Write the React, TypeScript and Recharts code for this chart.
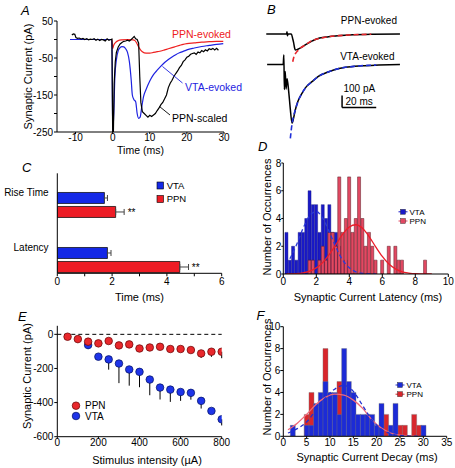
import React from 'react';
import {
  LineChart, ComposedChart, Line, Bar, Scatter, XAxis, YAxis, ErrorBar, ReferenceLine, LabelList,
} from 'recharts';

const FONT = "'Liberation Sans', Arial, Helvetica, sans-serif";
const CW = 455;
const CH = 468;
const YW = 40;
const XH = 30;
const N = null;

const BLUE = '#1e22e0';
const RED = '#ee2020';

// ---------------- Panel A: traces ----------------
const aTicksX = [-10, 0, 10, 20, 30];
const aTicksY = [50, 0, -50, -100, -150, -200, -250];
const aLabelsY = [50, -50, -150, -250];
const aBlackT = [-11, -10.6, -10.2, -9.9, -9.5, -9, -8.5, -8, -7.5, -7, -6.5, -6, -5.5, -5, -4.5, -4, -3.5, -3, -2.5, -2, -1.5, -1, -0.5, -0.2, 0, 0.2, 0.4, 0.7, 1, 1.5, 2, 2.5, 3, 3.5, 4, 4.5, 5, 5.5, 5.8, 6.2, 6.6, 7, 7.3, 7.6, 8, 8.5, 9, 9.5, 10, 10.5, 11, 11.5, 12, 12.5, 13, 13.5, 14, 14.5, 15, 15.5, 16, 16.5, 17, 17.5, 18, 18.5, 19, 19.5, 20, 20.5, 21, 21.5, 22, 22.5, 23, 23.5, 24, 24.5, 25, 25.5, 26, 26.5, 27, 27.5, 28, 28.5];
const aBlackV = [12, 15, 14, 5, 3, 4, 1, 3, 0, 2, -1, 1, 0, 2, -2, 1, -3, 0, -1, -4, 2, -2, 0, 1, -250, -250, -120, -60, -35, -20, -12, -8, -5, -4, -2, -4, 0, 5, 8, 2, 0, -10, -100, -170, -195, -200, -205, -210, -205, -208, -204, -200, -192, -185, -176, -170, -160, -150, -130, -118, -110, -100, -92, -85, -76, -70, -60, -55, -48, -45, -40, -38, -36, -40, -34, -36, -30, -33, -28, -31, -25, -27, -24, -28, -24, -29];
const aBlueT = [-11.5, -8, -4, -0.2, 0, 0.3, 0.6, 1, 1.5, 2, 2.5, 3, 3.5, 4, 4.5, 5, 5.3, 5.7, 6.2, 6.6, 7, 7.4, 7.8, 8.3, 9, 10, 11, 12, 13, 14, 15, 16, 17, 18, 19, 20, 22, 24, 26, 28, 29.8];
const aBlueV = [0, 0, 0, 0, -250, -200, -100, -55, -30, -22, -19, -20, -25, -35, -60, -110, -150, -162, -168, -200, -213, -210, -185, -155, -135, -112, -95, -83, -72, -62, -54, -47, -41, -36, -32, -28, -23, -19, -16, -13, -11];
const aRedT = [-11.5, -0.2, 0, 0.3, 0.8, 1.5, 2.5, 4, 5.5, 6, 6.5, 7, 7.5, 8, 9, 10, 11, 12, 13, 14, 15, 16, 17, 18, 19, 20, 22, 24, 26, 28, 29.8];
const aRedV = [0, 0, -25, -15, -8, -3, -1, 0, -1, -3, -10, -20, -28, -33, -37, -37, -35, -33, -31, -28, -25, -22, -19, -16, -13, -11, -9, -7, -6, -5, -5];

// ---------------- Panel B: example traces with fits ----------------
const PPN_OFFSET = 253;
const bPpnT = [-12.5, -4, -0.6, -0.35, -0.1, 0.2, 2.2, 3.0, 3.5, 4.0, 4.5, 5.5, 7, 10.4, 16.2, 24, 35.8, 49.4, 65.8];
const bPpnV = [0, 0, 0, 20, -15, 0, 0, -40, -70, -110, -133, -130, -120, -90, -45, -22, -8, -2, 0];
const bPpnFitT = [3.0, 3.5, 4.5, 6, 8, 10.4, 13, 16.2, 20, 24, 30, 36, 42, 49];
const bPpnFitV = [-231, -200, -165, -138, -112, -90, -65, -45, -32, -22, -13, -8, -4, -2];
const bVtaT = [-12, -2.6, -2.2, -1.9, -1.4, -0.9, -0.3, 0.6, 1.5, 2.6, 3.3, 4.5, 6, 8.4, 11, 14.3, 18, 24.1, 30, 33.8, 43.6, 53.4, 65.8];
const bVtaV = [0, 0, 78, -210, -60, -205, -120, -220, -360, -490, -460, -380, -310, -241, -185, -144, -100, -61, -35, -24, -11, -5, 0];
const bVtaFitT = [1.6, 2.6, 3.5, 4.5, 6, 8.4, 11, 14.3, 18, 24.1, 30, 34, 40, 47, 52];
const bVtaFitV = [-616, -495, -430, -380, -312, -241, -185, -144, -100, -61, -35, -24, -15, -8, -5];
const SCALE_T = 31.9;
const SCALE_V = -360;
const SCALE_PA = 100;
const SCALE_MS = 20;

// ---------------- Panel C: bar summary ----------------
const cCategories = ['Rise Time', 'Latency'];
const cPos = [1, 2];
const cVta = [1.72, 1.83];
const cVtaErr = [0.11, 0.13];
const cPpn = [2.13, 4.47];
const cPpnErr = [0.31, 0.32];
const cSig = ['**', '**'];
const cTicksX = [0, 1, 2, 3, 4, 5, 6];

// ---------------- Panel D: latency histogram ----------------
const dCenters = [0.2, 0.4, 0.6, 0.8, 1.0, 1.2, 1.4, 1.6, 1.8, 2.0, 2.2, 2.4, 2.6, 2.8, 3.0, 3.2, 3.4, 3.6, 3.8, 4.0, 4.2, 4.4, 4.6, 4.8, 5.0, 5.2, 5.4, 5.6, 5.8, 6.0, 6.2, 6.4, 6.6, 6.8, 7.0, 7.2, 7.4, 7.6, 7.8, 8.0, 8.2, 8.4, 8.6, 8.8, 9.0];
const dVta = [3, 1, 2, 1, 3, 3, 4, 6, 5, 5, 3, 5, 4, 5, 3, 3, 2, 1, 1, 0, 0, 0, 0, 0, 0, 0, 0, 0, 0, 0, 0, 0, 0, 0, 0, 0, 0, 0, 0, 0, 0, 0, 0, 0, 0];
const dPpn = [0, 0, 0, 0, 0, 0, 0, 1, 1, 0, 1, 2, 1, 3, 3, 2, 7, 3, 4, 7, 3, 4, 7, 4, 2, 3, 2, 1, 0, 1, 0, 2, 0, 2, 1, 1, 0, 0, 0, 0, 0, 0, 1, 0, 0];
const dVtaFit = [N, 1.1, N, 2.1, N, 3.3, N, 4.2, N, 4.5, N, 4.0, N, 3.0, N, 1.9, N, 1.0, N, 0.45, N, 0.16, N, 0.05, N, 0.01, N, 0, N, N, N, N, N, N, N, N, N, N, N, N, N, N, N, N, N];
const dPpnFit = [0.01, N, N, 0.03, N, 0.08, N, 0.2, N, 0.44, N, 0.84, N, 1.43, N, 2.15, N, 2.87, N, 3.39, N, 3.55, N, 3.29, N, 2.7, N, 1.96, N, 1.27, N, 0.72, N, 0.37, N, 0.16, N, 0.07, N, 0.02, N, 0.01, N, 0, 0];
const dTicksX = [0, 2, 4, 6, 8, 10];
const dTicksY = [0, 2, 4, 6, 8];

// ---------------- Panel E: input-output ----------------
const ePpnX = [50, 100, 150, 200, 250, 300, 350, 400, 450, 500, 550, 600, 650, 700, 750, 800];
const ePpnY = [-14, -28, -43, -53, -39, -65, -59, -83, -77, -73, -86, -86, -92, -112, -102, -102];
const ePpnErr = [5, 8, 10, 10, 8, 12, 10, 20, 12, 12, 15, 12, 15, 26, 30, 38];
const eVtaX = [150, 200, 250, 300, 350, 400, 450, 500, 550, 600, 650, 700, 750, 800];
const eVtaY = [-63, -131, -147, -171, -206, -220, -265, -312, -324, -338, -343, -390, -449, -498];
const eVtaErr = [20, 10, 60, 115, 95, 90, 92, 70, 72, 52, 40, 45, 15, 36];
const eTicksX = [0, 200, 400, 600, 800];
const eTicksY = [-600, -400, -200, 0];

// ---------------- Panel F: decay histogram ----------------
const fCenters = [1, 2, 3, 4, 5, 6, 7, 8, 9, 10, 11, 12, 13, 14, 15, 16, 17, 18, 19, 20, 21, 22, 23, 24, 25, 26, 27, 28, 29, 30];
const fVta = [0, 1, 0, 0, 1, 1, 3, 4, 5, 4, 4, 2, 8, 5, 4, 2, 2, 2, 2, 1, 3, 0, 1, 3, 0, 0, 0, 0, 0, 1];
const fPpn = [0, 0, 0, 0, 2, 4, 0, 0, 8, 0, 0, 5, 0, 0, 0, 0, 0, 0, 0, 0, 0, 2, 0, 0, 1, 1, 0, 2, 1, 0];
const fVtaFit = [0.3, N, 0.7, N, 1.3, N, 2.4, N, 3.5, N, 4.3, N, 4.65, N, 4.1, N, 2.8, N, 1.5, N, 0.65, N, 0.25, N, 0.08, N, 0.02, N, 0, N];
const fPpnFit = [0.6, N, 1.2, N, 2.0, N, 2.9, N, 3.55, N, 3.85, N, 3.75, N, 3.3, N, 2.55, N, 1.5, N, 0.75, N, 0.3, N, 0.1, N, 0.03, N, 0, N];
const fTicksX = [0, 5, 10, 15, 20, 25, 30, 35];
const fTicksY = [0, 2, 4, 6, 8, 10];

// ---------------- helpers ----------------
const pts = (ts: number[], vs: number[], off = 0) => ts.map((t, i) => ({ t, v: vs[i] + off }));
const margin = (l: number, t: number, r: number, b: number, yw = YW, xh = XH) => ({
  left: l - yw, top: t, right: CW - r, bottom: CH - b - xh,
});
const layer: React.CSSProperties = { position: 'absolute', left: 0, top: 0 };
const axisLine = { stroke: '#000', strokeWidth: 1 };
const tick10 = { fill: '#000', fontSize: 10, fontFamily: FONT };

const aBlack = pts(aBlackT, aBlackV);
const aBlue = pts(aBlueT, aBlueV);
const aRed = pts(aRedT, aRedV);
const bPpn = pts(bPpnT, bPpnV, PPN_OFFSET);
const bPpnFit = pts(bPpnFitT, bPpnFitV, PPN_OFFSET);
const bVta = pts(bVtaT, bVtaV);
const bVtaFit = pts(bVtaFitT, bVtaFitV);

const cRows = cPos.map((pos, i) => ({
  pos, vta: cVta[i], vtaErr: [0, cVtaErr[i]], ppn: cPpn[i], ppnErr: [0, cPpnErr[i]], sig: cSig[i],
}));
const dRows = dCenters.map((x, i) => ({ x, vta: dVta[i], ppn: dPpn[i], vtaFit: dVtaFit[i], ppnFit: dPpnFit[i] }));
const fRows = fCenters.map((x, i) => ({ x, vta: fVta[i], ppn: fPpn[i], vtaFit: fVtaFit[i], ppnFit: fPpnFit[i] }));
const ePpnRows = ePpnX.map((x, i) => ({ x, y: ePpnY[i], err: [ePpnErr[i], 0] }));
const eVtaRows = eVtaX.map((x, i) => ({ x, y: eVtaY[i], err: [eVtaErr[i], 0] }));

const CTick = (props: any) => {
  const { x, y, payload } = props;
  const i = cPos.indexOf(payload.value);
  return (
    <text x={x} y={y - 9} textAnchor="end" fontSize={10} fill="#000" fontFamily={FONT}>
      {cCategories[i]}
    </text>
  );
};

const circleShape = (fill: string, stroke: string) => (p: any) => (
  <circle cx={p.cx} cy={p.cy} r={3.8} fill={fill} stroke={stroke} strokeWidth={0.7} />
);

// ---------------- overlay text ----------------
const T = ({ x, y, s = 10, anchor = 'start', fill = '#000', italic = false, children }: any) => (
  <text x={x} y={y + s * 0.36} fontSize={s} textAnchor={anchor} fill={fill} fontFamily={FONT}
    fontStyle={italic ? 'italic' : 'normal'}>{children}</text>
);
const VT = ({ x, y, s = 11, children }: any) => (
  <text transform={`translate(${x},${y}) rotate(-90)`} y={s * 0.36} fontSize={s} textAnchor="middle"
    fill="#000" fontFamily={FONT}>{children}</text>
);
const HistKey = ({ x, y, fill, label }: any) => (
  <g>
    <line x1={x - 4.5} x2={x + 4.5} y1={y} y2={y} stroke={fill} strokeWidth={1} />
    <rect x={x - 2.5} y={y - 2.5} width={5} height={5} fill={fill} stroke="#222" strokeWidth={0.4} />
    <T x={x + 6.5} y={y} s={8}>{label}</T>
  </g>
);

const Overlay = () => (
  <svg width={CW} height={CH} style={{ position: 'absolute', left: 0, top: 0, pointerEvents: 'none' }}>
    {/* panel letters */}
    <T x={21} y={10} s={13} italic>A</T>
    <T x={267} y={9} s={13} italic>B</T>
    <T x={22} y={167} s={13} italic>C</T>
    <T x={258} y={146.5} s={13} italic>D</T>
    <T x={18} y={316.5} s={13} italic>E</T>
    <T x={256.5} y={315} s={13} italic>F</T>

    {/* panel A */}
    <VT x={28.5} y={76.5}>Synaptic Current (pA)</VT>
    <T x={140.5} y={150.5} s={10.5} anchor="middle">Time (ms)</T>
    <T x={172} y={34} fill="#ee2020" s={10.5}>PPN-evoked</T>
    <T x={185} y={87.3} fill="#1e22e0" s={10.5}>VTA-evoked</T>
    <T x={172} y={118.3} s={10.5}>PPN-scaled</T>
    <line x1={162.5} y1={66.5} x2={182.5} y2={83} stroke="#1e22e0" strokeWidth={0.9} />
    <line x1={159.5} y1={106.5} x2={170} y2={115} stroke="#000" strokeWidth={0.9} />

    {/* panel B */}
    <T x={397} y={20.3} anchor="end">PPN-evoked</T>
    <T x={394.5} y={56.5} anchor="end">VTA-evoked</T>
    <T x={343.5} y={88}>100 pA</T>
    <T x={345.5} y={101.5}>20 ms</T>

    {/* panel C */}
    <T x={139.5} y={297} s={11} anchor="middle">Time (ms)</T>
    <rect x={157} y={182} width={6.5} height={7} fill="#1428e6" stroke="#000" strokeWidth={0.6} />
    <T x={166.7} y={185.5} s={9.5}>VTA</T>
    <rect x={157} y={195.5} width={6.5} height={7} fill="#ee1c25" stroke="#000" strokeWidth={0.6} />
    <T x={166.7} y={199} s={9.5}>PPN</T>

    {/* panel D */}
    <VT x={266.7} y={217}>Number of Occurrences</VT>
    <T x={368} y={296.7} s={11} anchor="middle">Synaptic Current Latency (ms)</T>
    <HistKey x={403} y={211.8} fill="#1a1ac8" label="VTA" />
    <HistKey x={403} y={221} fill="#e24862" label="PPN" />

    {/* panel E */}
    <VT x={27} y={376}>Synaptic Current (pA)</VT>
    <T x={147} y={460} s={11} anchor="middle">Stimulus intensity (µA)</T>
    <circle cx={76} cy={405.7} r={3.8} fill="#e8282c" stroke="#600" strokeWidth={0.7} />
    <T x={85} y={405.7}>PPN</T>
    <circle cx={76} cy={416} r={3.8} fill="#1e34e8" stroke="#001060" strokeWidth={0.7} />
    <T x={85} y={416}>VTA</T>

    {/* panel F */}
    <VT x={266.7} y={377}>Number of Occurrences</VT>
    <T x={367} y={456.7} s={11} anchor="middle">Synaptic Current Decay (ms)</T>
    <HistKey x={400} y={385} fill="#1c2bd6" label="VTA" />
    <HistKey x={400} y={394.2} fill="#d8262c" label="PPN" />
  </svg>
);

export default function App() {
  return (
    <div style={{ position: 'absolute', left: 0, top: 0, width: CW, height: CH, background: '#fff', fontFamily: FONT, overflow: 'hidden' }}>
      {/* Panel A */}
      <div style={layer}>
        <LineChart width={CW} height={CH} margin={margin(57, 21, 224, 132)}>
          <XAxis type="number" dataKey="t" domain={[-15, 30]} ticks={aTicksX} interval={0} allowDataOverflow
            height={XH} tickSize={2} tickMargin={0} axisLine={axisLine} tickLine={axisLine} tick={tick10} />
          <YAxis type="number" domain={[-250, 50]} ticks={aTicksY} interval={0} allowDataOverflow
            width={YW} tickSize={3} tickMargin={1} axisLine={axisLine} tickLine={axisLine} tick={tick10}
            tickFormatter={(v: number) => (aLabelsY.includes(v) ? String(v) : '')} />
          <Line data={aRed} dataKey="v" type="monotone" stroke={RED} strokeWidth={1.2} dot={false} activeDot={false} isAnimationActive={false} />
          <Line data={aBlue} dataKey="v" type="monotone" stroke={BLUE} strokeWidth={1.2} dot={false} activeDot={false} isAnimationActive={false} />
          <Line data={aBlack} dataKey="v" type="linear" stroke="#000" strokeWidth={1.2} dot={false} activeDot={false} isAnimationActive={false} />
        </LineChart>
      </div>

      {/* Panel B */}
      <div style={layer}>
        <LineChart width={CW} height={CH} margin={{ left: 262, right: CW - 402, top: 20, bottom: CH - 146 }}>
          <XAxis type="number" dataKey="t" domain={[-15, 67]} hide allowDataOverflow />
          <YAxis type="number" domain={[-680, 370]} hide allowDataOverflow />
          <Line data={bPpn} dataKey="v" type="monotone" stroke="#000" strokeWidth={1.5} dot={false} activeDot={false} isAnimationActive={false} />
          <Line data={bVta} dataKey="v" type="monotone" stroke="#000" strokeWidth={1.5} dot={false} activeDot={false} isAnimationActive={false} />
          <Line data={bPpnFit} dataKey="v" type="monotone" stroke="#e8262c" strokeWidth={1.6} strokeDasharray="5 3" dot={false} activeDot={false} isAnimationActive={false} />
          <Line data={bVtaFit} dataKey="v" type="monotone" stroke="#1f2fd8" strokeWidth={1.6} strokeDasharray="5 3" dot={false} activeDot={false} isAnimationActive={false} />
          <ReferenceLine segment={[{ x: SCALE_T, y: SCALE_V }, { x: SCALE_T, y: SCALE_V + SCALE_PA }]} stroke="#000" strokeWidth={1.5} />
          <ReferenceLine segment={[{ x: SCALE_T, y: SCALE_V }, { x: SCALE_T + SCALE_MS, y: SCALE_V }]} stroke="#000" strokeWidth={1.5} />
        </LineChart>
      </div>

      {/* Panel C */}
      <div style={layer}>
        <ComposedChart layout="vertical" width={CW} height={CH} data={cRows} barGap={3}
          margin={margin(57.3, 173.3, 221.7, 273.3)}>
          <XAxis type="number" domain={[0, 6]} ticks={cTicksX} interval={0} allowDataOverflow
            height={XH} tickSize={3} tickMargin={2} axisLine={axisLine} tickLine={axisLine} tick={tick10}
            tickFormatter={(v: number) => (v % 2 === 0 ? String(v) : '')} />
          <YAxis type="number" dataKey="pos" domain={[0.424, 2.242]} ticks={cPos} interval={0} allowDataOverflow
            width={YW} tickSize={0} tickMargin={8.7} axisLine={axisLine} tickLine={false} tick={<CTick />} />
          <Bar dataKey="vta" fill="#1428e6" stroke="#000" strokeWidth={0.7} barSize={11} isAnimationActive={false}>
            <ErrorBar dataKey="vtaErr" direction="x" width={3} stroke="#444" strokeWidth={1} />
          </Bar>
          <Bar dataKey="ppn" fill="#ee1c25" stroke="#000" strokeWidth={0.7} barSize={11} isAnimationActive={false}>
            <ErrorBar dataKey="ppnErr" direction="x" width={3} stroke="#444" strokeWidth={1} />
            <LabelList dataKey="sig" position="right" offset={12} fill="#000" fontSize={10} />
          </Bar>
        </ComposedChart>
      </div>

      {/* Panel D */}
      <div style={layer}>
        <ComposedChart width={CW} height={CH} data={dRows} barCategoryGap={0} barGap={0}
          margin={margin(283.3, 163, 448.3, 274)}>
          <XAxis xAxisId="a" type="number" dataKey="x" domain={[0, 10]} ticks={dTicksX} interval={0} allowDataOverflow
            height={XH} tickSize={3} tickMargin={1} axisLine={axisLine} tickLine={axisLine} tick={tick10} />
          <XAxis xAxisId="b" type="number" dataKey="x" domain={[0, 10]} hide allowDataOverflow />
          <YAxis type="number" domain={[0, 8]} ticks={dTicksY} interval={0} allowDataOverflow
            width={YW} tickSize={2} tickMargin={0} axisLine={axisLine} tickLine={axisLine} tick={tick10} />
          <Bar xAxisId="a" dataKey="vta" fill="#1a1ac8" stroke="#10107a" strokeWidth={0.4} isAnimationActive={false} />
          <Bar xAxisId="b" dataKey="ppn" fill="#e24862" stroke="#5a1a22" strokeWidth={0.5} isAnimationActive={false} />
          <Line xAxisId="a" dataKey="vtaFit" type="monotone" connectNulls stroke="#2a3ad8" strokeWidth={1.3} strokeDasharray="4 3" dot={false} activeDot={false} isAnimationActive={false} />
          <Line xAxisId="a" dataKey="ppnFit" type="monotone" connectNulls stroke="#ec1c28" strokeWidth={1.3} dot={false} activeDot={false} isAnimationActive={false} />
        </ComposedChart>
      </div>

      {/* Panel E */}
      <div style={layer}>
        <ComposedChart width={CW} height={CH} margin={margin(57.3, 325.8, 221.7, 436.7)}>
          <XAxis type="number" dataKey="x" domain={[0, 800]} ticks={eTicksX} interval={0} allowDataOverflow
            height={XH} tickSize={2} tickMargin={0} axisLine={axisLine} tickLine={axisLine} tick={tick10} />
          <YAxis type="number" dataKey="y" domain={[-600, 50]} ticks={eTicksY} interval={0} allowDataOverflow
            width={YW} tickSize={3} tickMargin={1} axisLine={axisLine} tickLine={axisLine} tick={tick10} />
          <ReferenceLine y={0} stroke="#000" strokeWidth={1} strokeDasharray="4 3" />
          <Scatter data={eVtaRows} shape={circleShape('#1e34e8', '#001060')} isAnimationActive={false}>
            <ErrorBar dataKey="err" direction="y" width={0} stroke="#000" strokeWidth={1} />
          </Scatter>
          <Scatter data={ePpnRows} shape={circleShape('#e8282c', '#600')} isAnimationActive={false}>
            <ErrorBar dataKey="err" direction="y" width={0} stroke="#000" strokeWidth={1} />
          </Scatter>
        </ComposedChart>
      </div>

      {/* Panel F */}
      <div style={layer}>
        <ComposedChart width={CW} height={CH} data={fRows} barCategoryGap={0} barGap={0}
          margin={margin(283.3, 326.7, 446.7, 436.3)}>
          <XAxis xAxisId="a" type="number" dataKey="x" domain={[0, 35]} ticks={fTicksX} interval={0} allowDataOverflow
            height={XH} tickSize={2} tickMargin={1} axisLine={axisLine} tickLine={axisLine} tick={tick10} />
          <XAxis xAxisId="b" type="number" dataKey="x" domain={[0, 35]} hide allowDataOverflow />
          <YAxis type="number" domain={[0, 10]} ticks={fTicksY} interval={0} allowDataOverflow
            width={YW} tickSize={3} tickMargin={0} axisLine={axisLine} tickLine={axisLine} tick={tick10} />
          <Bar xAxisId="b" dataKey="ppn" fill="#d8262c" stroke="#777" strokeWidth={0.4} isAnimationActive={false} />
          <Bar xAxisId="a" dataKey="vta" fill="#1c2bd6" stroke="#777" strokeWidth={0.4} isAnimationActive={false} />
          <Line xAxisId="a" dataKey="ppnFit" type="monotone" connectNulls stroke="#f06878" strokeWidth={1.3} dot={false} activeDot={false} isAnimationActive={false} />
          <Line xAxisId="a" dataKey="vtaFit" type="monotone" connectNulls stroke="#2030d0" strokeWidth={1.3} strokeDasharray="4 3" dot={false} activeDot={false} isAnimationActive={false} />
        </ComposedChart>
      </div>

      <Overlay />
    </div>
  );
}
